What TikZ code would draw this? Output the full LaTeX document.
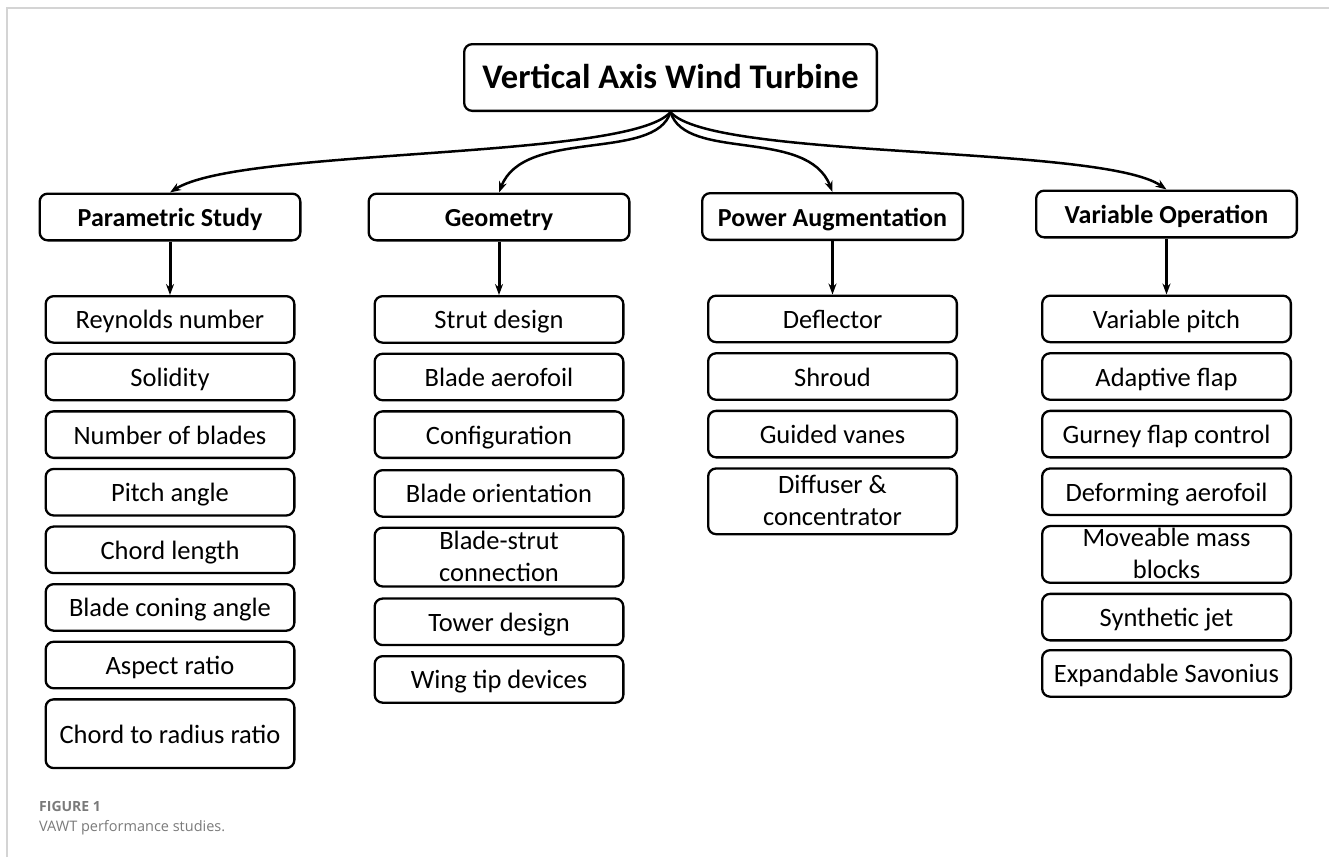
\documentclass[tikz,border=0pt]{standalone}
\usepackage{fontspec}
\setmainfont{Carlito}
\newfontfamily\capfont{Open Sans}
\usepackage{xcolor}
\usepackage{tikz}
\usetikzlibrary{arrows.meta,positioning}

\definecolor{framegray}{HTML}{D4D4D4}
\definecolor{capgray}{HTML}{7A7A7A}

% struts that set the text baseline inside the boxes
\newcommand{\boxstrut}{\rule[-7pt]{0pt}{33pt}}
\newcommand{\rootstrut}{\rule[-8pt]{0pt}{37pt}}
% two centred lines, first baseline 7.5pt above the box centre
\newcommand{\twoline}[2]{\raisebox{0pt}[20pt][35pt]{\begin{tabular}[t]{@{}c@{}}#1\\#2\end{tabular}}}

\begin{document}
\begin{tikzpicture}[
    x=1pt, y=-1pt,
    node distance=8.8pt,
    box/.style={rectangle, draw, rounded corners=8pt, line width=2.3pt, inner sep=0pt, align=center},
    rootbox/.style={box, minimum width=412.7pt, minimum height=66.7pt, font=\fontsize{34.5}{41}\selectfont\bfseries,
        execute at begin node=\rootstrut},
    head/.style={box, minimum width=260.7pt, minimum height=46.7pt, font=\fontsize{26}{31}\selectfont\bfseries,
        execute at begin node=\boxstrut},
    itembase/.style={box, minimum width=248.7pt, minimum height=46.5pt, font=\fontsize{26.5}{32}\selectfont},
    item/.style={itembase, execute at begin node=\boxstrut},
    item2/.style={itembase},
    arrow/.style={-{Stealth[length=11pt,width=8pt]}, line width=3pt},
    curvearrow/.style={-{Stealth[length=11pt,width=8pt]}, line width=2.5pt},
]
\useasboundingbox (0,0) rectangle (1329,857);

% page frame
\draw[framegray, line width=1.5pt] (7,857) -- (7,8) -- (1329,8);

% Root
\node[rootbox] (vawt) at (670.5,77.5) {Vertical Axis Wind Turbine};

% Study groups
\node[head] (ps) at (170,217) {Parametric Study};
\node[head] (geo) at (499,217) {Geometry};
\node[head] (pa) at (832.5,216.5) {Power Augmentation};
\node[head] (vo) at (1166.5,214) {Variable Operation};

% Parametric study items
\node[item, below=53.5pt of ps] (ps1) {Reynolds number};
\node[item, below=of ps1] (ps2) {Solidity};
\node[item, below=of ps2] (ps3) {Number of blades};
\node[item, below=of ps3] (ps4) {Pitch angle};
\node[item, below=of ps4] (ps5) {Chord length};
\node[item, below=of ps5] (ps6) {Blade coning angle};
\node[item, below=of ps6] (ps7) {Aspect ratio};
\node[item, below=of ps7, minimum height=68.7pt] (ps8) {Chord to radius ratio};

% Geometry items
\node[item, below=53.5pt of geo] (geo1) {Strut design};
\node[item, below=of geo1] (geo2) {Blade aerofoil};
\node[item, below=of geo2] (geo3) {Configuration};
\node[item, below=10pt of geo3] (geo4) {Blade orientation};
\node[item2, below=of geo4, minimum height=58.7pt] (geo5) {\twoline{Blade-strut}{connection}};
\node[item, below=9.8pt of geo5] (geo6) {Tower design};
\node[item, below=of geo6] (geo7) {Wing tip devices};

% Power augmentation items
\node[item, below=53.5pt of pa] (pa1) {Deflector};
\node[item, below=of pa1] (pa2) {Shroud};
\node[item, below=of pa2] (pa3) {Guided vanes};
\node[item2, below=of pa3, minimum height=65.7pt] (pa4) {\twoline{Diffuser \&}{concentrator}};

% Variable operation items
\node[item, below=56pt of vo] (vo1) {Variable pitch};
\node[item, below=of vo1] (vo2) {Adaptive flap};
\node[item, below=of vo2] (vo3) {Gurney flap control};
\node[item, below=of vo3] (vo4) {Deforming aerofoil};
\node[item2, below=of vo4, minimum height=56.7pt] (vo5) {\twoline{Moveable mass}{blocks}};
\node[item, below=of vo5] (vo6) {Synthetic jet};
\node[item, below=7.5pt of vo6] (vo7) {Expandable Savonius};

% Arrows
\draw[curvearrow] (vawt.south) .. controls +(-40,48) and +(70,-45) .. (ps.north);
\draw[curvearrow] (vawt.south) .. controls +(-15,50) and +(25,-65) .. (geo.north);
\draw[curvearrow] (vawt.south) .. controls +(15,50) and +(-25,-65) .. (pa.north);
\draw[curvearrow] (vawt.south) .. controls +(40,48) and +(-65,-45) .. (vo.north);
\draw[arrow] (ps.south) -- (ps.south |- ps1.north);
\draw[arrow] (geo.south) -- (geo.south |- geo1.north);
\draw[arrow] (pa.south) -- (pa.south |- pa1.north);
\draw[arrow] (vo.south) -- (vo.south |- vo1.north);

% Caption
\node[anchor=base west, inner sep=0pt, text=capgray, font=\capfont\fontsize{14}{16}\selectfont\bfseries] (figno) at (39,811) {FIGURE 1};
\node[anchor=base west, inner sep=0pt, text=capgray, font=\capfont\fontsize{14.5}{16}\selectfont] (figcap) at (39,831) {VAWT performance studies.};

\end{tikzpicture}
\end{document}
